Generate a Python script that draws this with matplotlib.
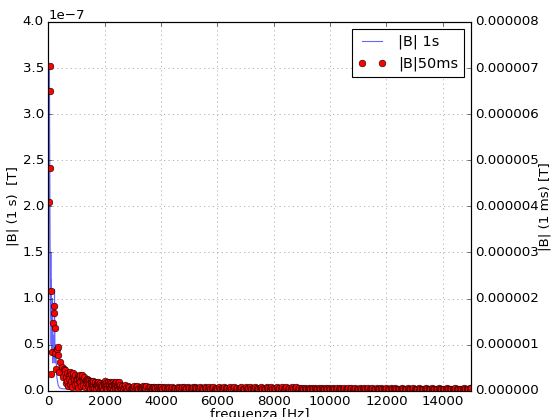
import matplotlib
matplotlib.use("Agg")
import matplotlib.pyplot as plt
import numpy as np
from matplotlib.ticker import FormatStrFormatter

plt.style.use("classic")

# spectrum from the 1 s acquisition [1e-7 T]
freq_1s = [0, 10, 20, 30, 40, 50, 60, 70, 80, 90, 100, 110, 120, 140, 160,
           180, 200, 220, 240, 260, 300, 350, 400, 500, 1000, 2000, 4000,
           7000, 10000, 15000]
b_1s = [0.02, 0.50, 2.00, 3.30, 3.52, 2.60, 1.80, 1.20, 0.80, 1.50, 0.50,
        1.20, 0.40, 1.00, 0.30, 0.60, 0.35, 1.10, 0.30, 0.50, 0.15, 0.06,
        0.03, 0.02, 0.02, 0.02, 0.01, 0.01, 0.01, 0.01]

# spectrum from the 50 ms acquisition [1e-6 T]
freq_low = [30, 45, 60, 75, 100, 110, 125, 150, 185, 205, 235, 250, 260,
            300, 330, 345, 380, 420, 470, 520, 560]
b_low = [4.10, 7.04, 6.50, 4.84, 2.16, 0.36, 0.84, 1.46, 1.68, 1.84, 1.36,
         0.82, 0.46, 0.90, 0.78, 0.94, 0.40, 0.62, 0.52, 0.30, 0.46]

freq_mid = np.arange(600, 2600, 20)
b_mid = [0.44, 0.30, 0.16, 0.38, 0.22, 0.10, 0.34, 0.26, 0.40, 0.14,
         0.36, 0.20, 0.08, 0.30, 0.38, 0.18, 0.26, 0.12, 0.34, 0.24,
         0.26, 0.14, 0.32, 0.06, 0.22, 0.30, 0.18, 0.34, 0.10, 0.28,
         0.34, 0.20, 0.12, 0.28, 0.30, 0.08, 0.24, 0.16, 0.26, 0.20,
         0.24, 0.10, 0.20, 0.14, 0.04, 0.22, 0.16, 0.08, 0.18, 0.12,
         0.20, 0.06, 0.14, 0.18, 0.10, 0.04, 0.16, 0.12, 0.08, 0.18,
         0.14, 0.04, 0.16, 0.08, 0.12, 0.06, 0.10, 0.02, 0.14, 0.16,
         0.20, 0.10, 0.06, 0.16, 0.12, 0.04, 0.18, 0.08, 0.14, 0.06,
         0.18, 0.08, 0.16, 0.12, 0.04, 0.18, 0.10, 0.14, 0.06, 0.16,
         0.18, 0.06, 0.12, 0.16, 0.04, 0.10, 0.18, 0.08, 0.12, 0.06]

freq_upper = np.arange(2600, 4000, 40)
b_upper = [0.10, 0.04, 0.08, 0.12, 0.06, 0.02, 0.10, 0.08, 0.04, 0.06,
           0.06, 0.10, 0.02, 0.08, 0.10, 0.04, 0.08, 0.06, 0.08, 0.10,
           0.08, 0.06, 0.10, 0.04, 0.08, 0.09, 0.02, 0.06, 0.08, 0.07,
           0.06, 0.08, 0.04, 0.07, 0.05]

freq_high = np.arange(4000, 15000, 50)
b_high = [0.07, 0.04, 0.09, 0.05, 0.03, 0.08, 0.06, 0.04, 0.09, 0.05,
          0.06, 0.03, 0.08, 0.05, 0.04, 0.07, 0.09, 0.04, 0.05, 0.07,
          0.05, 0.03, 0.06, 0.08, 0.07, 0.05, 0.06, 0.03, 0.09, 0.06,
          0.04, 0.07, 0.05, 0.03, 0.08, 0.04, 0.05, 0.07, 0.04, 0.06,
          0.03, 0.08, 0.04, 0.06, 0.03, 0.09, 0.05, 0.05, 0.03, 0.07,
          0.04, 0.03, 0.08, 0.04, 0.06, 0.03, 0.05, 0.09, 0.03, 0.04,
          0.07, 0.03, 0.05, 0.08, 0.03, 0.06, 0.04, 0.08, 0.05, 0.03,
          0.06, 0.08, 0.03, 0.05, 0.04, 0.07, 0.06, 0.03, 0.08, 0.04,
          0.05, 0.03, 0.07, 0.04, 0.06, 0.03, 0.08, 0.04, 0.05, 0.07,
          0.03, 0.06, 0.04, 0.07, 0.03, 0.05, 0.08, 0.04, 0.06, 0.03,
          0.05, 0.03, 0.06, 0.04, 0.03, 0.06, 0.04, 0.05, 0.03, 0.06,
          0.04, 0.03, 0.05, 0.04, 0.06, 0.03, 0.04, 0.06, 0.03, 0.05,
          0.04, 0.03, 0.06, 0.04, 0.03, 0.05, 0.04, 0.06, 0.03, 0.04,
          0.05, 0.03, 0.04, 0.06, 0.03, 0.05, 0.04, 0.03, 0.05, 0.04,
          0.03, 0.06, 0.04, 0.03, 0.05, 0.04, 0.03, 0.05, 0.03, 0.04,
          0.06, 0.03, 0.04, 0.05, 0.03, 0.04, 0.05, 0.03, 0.04, 0.03,
          0.05, 0.04, 0.03, 0.05, 0.03, 0.04, 0.05, 0.03, 0.04, 0.03,
          0.04, 0.05, 0.03, 0.04, 0.03, 0.05, 0.04, 0.03, 0.04, 0.05,
          0.03, 0.04, 0.03, 0.05, 0.04, 0.03, 0.04, 0.03, 0.05, 0.04,
          0.03, 0.04, 0.05, 0.03, 0.04, 0.03, 0.04, 0.05, 0.03, 0.04,
          0.03, 0.04, 0.03, 0.05, 0.04, 0.03, 0.04, 0.03, 0.04, 0.05,
          0.03, 0.04, 0.03, 0.04, 0.03, 0.05, 0.04, 0.03, 0.04, 0.05]

freq_50ms = np.concatenate([freq_low, freq_mid, freq_upper, freq_high, [14990]])
b_50ms = np.concatenate([b_low, b_mid, b_upper, b_high, [0.05]])

fig = plt.figure(figsize=(551 / 80, 417 / 80), dpi=80, facecolor="white")
ax = fig.add_axes([0.0877, 0.0631, 0.7671, 0.8842])

l1, = ax.plot(freq_1s, np.array(b_1s) * 1e-7, color="b", alpha=0.6,
              label="|B| 1s")
ax.set_xlim(0, 15000)
ax.set_ylim(0, 4e-7)
ax.set_xlabel("frequenza [Hz]", labelpad=-0.5)
ax.set_ylabel("|B| (1 s)  [T]", labelpad=3)
ax.grid(True, color="0.45")

ax2 = ax.twinx()
l2, = ax2.plot(freq_50ms, b_50ms * 1e-6, "o", color="r", mec="k", mew=0.5,
               ms=6, label="|B|50ms")
ax2.set_xlim(0, 15000)
ax2.set_ylim(0, 8e-6)
ax2.yaxis.set_major_formatter(FormatStrFormatter("%.6f"))
ax2.set_ylabel("|B| (1 ms) [T]", labelpad=-1)

ax2.legend([l1, l2], ["|B| 1s", "|B|50ms"], loc="upper right", numpoints=2,
           fontsize=13)

fig.savefig("out.png", dpi=80, facecolor="white")
